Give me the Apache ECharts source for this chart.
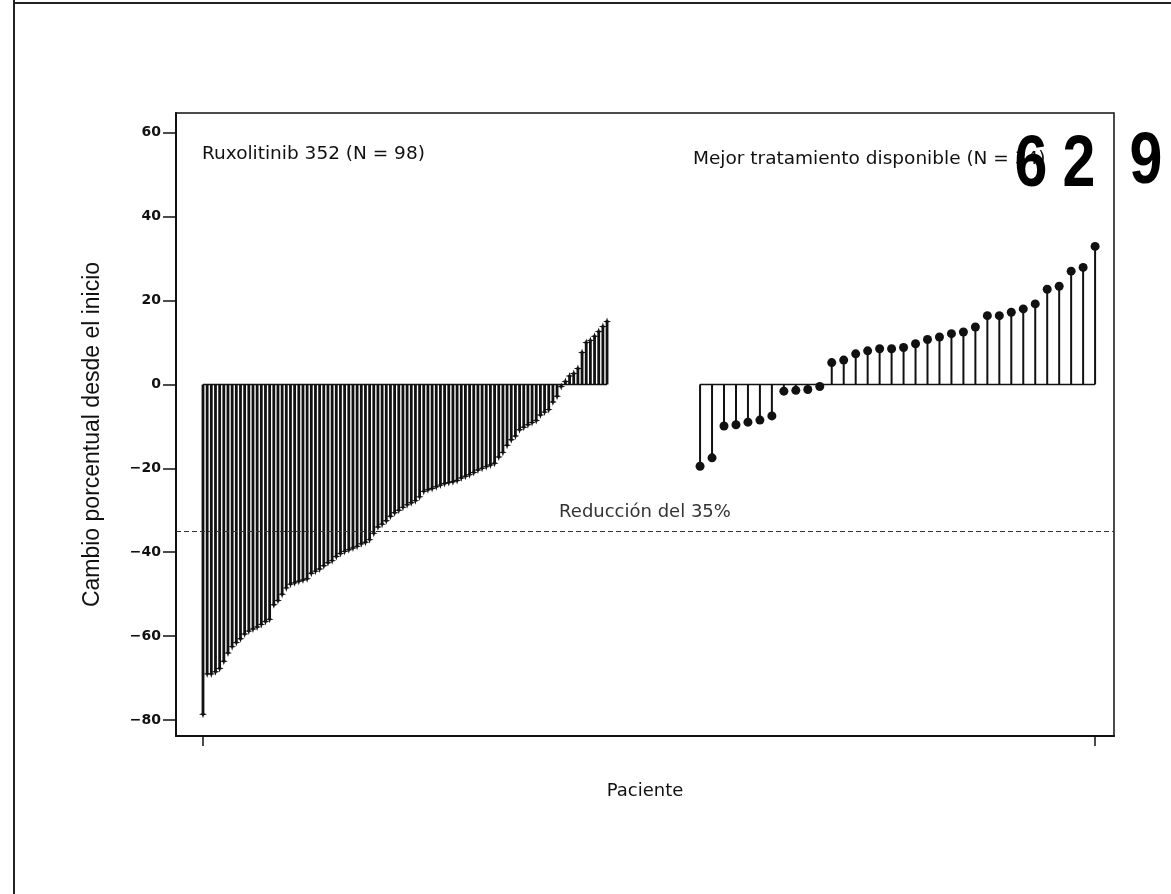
<!DOCTYPE html>
<html>
<head>
<meta charset="utf-8">
<script src="https://cdn.jsdelivr.net/npm/echarts@6/dist/echarts.min.js"></script>
<style>
  html, body { margin: 0; padding: 0; background: #fff; }
  #chart { width: 1171px; height: 894px; }
</style>
</head>
<body>
<div id="chart"></div>
<script>
// Ruxolitinib arm, sorted change from baseline (%)
const ruxValues = [
  -78.6, -69, -69, -68.5, -67.7, -66, -64, -62.5, -61.5, -60.6,
  -59.5, -58.8, -58.3, -57.8, -57.2, -56.5, -56, -52.5, -51.5, -50,
  -48.5, -47.6, -47.3, -46.9, -46.6, -46.3, -45, -44.5, -44, -43.2,
  -42.5, -42, -41, -40.3, -39.8, -39.4, -39, -38.6, -38, -37.6,
  -37, -35.5, -34, -33.3, -32.5, -31.4, -30.6, -30, -29.3, -28.7,
  -28.2, -27.7, -26.8, -25.5, -25.1, -24.8, -24.4, -24, -23.6, -23.4,
  -23.2, -22.9, -22.3, -21.9, -21.5, -21, -20.4, -20, -19.6, -19.2,
  -18.8, -17.3, -16.2, -14.5, -13.2, -12.3, -10.8, -10.2, -9.6, -9.1,
  -8.6, -7.3, -6.6, -6, -4.2, -2.8, -0.5, 0.7, 2, 2.6,
  3.8, 7.6, 10, 10.5, 11.5, 12.6, 13.8, 15
];

// Best available therapy arm
const batValues = [
  -19.5, -17.5, -9.9, -9.6, -9, -8.5, -7.5, -1.6, -1.4, -1.2,
  -0.5, 5.2, 5.8, 7.3, 8, 8.5, 8.5, 8.8, 9.7, 10.7,
  11.3, 12.1, 12.5, 13.7, 16.4, 16.4, 17.2, 18, 19.2, 22.7,
  23.4, 27, 27.9, 32.9
];

const yTicks = [-80, -60, -40, -20, 0, 20, 40, 60];
const reductionLevel = -35;

const ruxLabel = 'Ruxolitinib 352 (N = 98)';
const batLabel = 'Mejor tratamiento disponible (N = 34)';
const stampDigits = ['6', '2', '9'];

const starPath = 'path://M0,-5L1.2,-1.2L5,0L1.2,1.2L0,5L-1.2,1.2L-5,0L-1.2,-1.2Z';
const ink = '#111';
const font = '"DejaVu Sans", Verdana, sans-serif';
const stampFont = 'bold 72px "Liberation Sans", Arial, sans-serif';

const chart = echarts.init(document.getElementById('chart'));

const stamp = (text, x, y) => ({
  type: 'text', x: x, y: y, scaleX: 0.82, z: 100,
  style: { text: text, font: stampFont, fill: '#000', align: 'center', verticalAlign: 'middle' }
});

const option = {
  backgroundColor: '#fff',
  animation: false,
  grid: {
    left: 176, top: 113, right: 57, bottom: 158,
    show: true, borderColor: ink, borderWidth: 1.5
  },
  xAxis: [
    {
      type: 'value', position: 'bottom',
      min: -6.48, max: 218.7,
      name: 'Paciente', nameLocation: 'middle', nameGap: 46,
      nameTextStyle: { fontFamily: font, fontSize: 18, color: ink },
      axisLine: { show: true, onZero: false, lineStyle: { color: ink, width: 2 } },
      axisTick: { show: true, length: 10, customValues: [0], lineStyle: { color: ink, width: 1.5 } },
      axisLabel: { show: false },
      splitLine: { show: false }
    },
    {
      type: 'value', position: 'bottom',
      min: -43.78, max: 34.58,
      axisLine: { show: false, onZero: false },
      axisTick: { show: true, length: 10, customValues: [batValues.length - 1], lineStyle: { color: ink, width: 1.5 } },
      axisLabel: { show: false },
      splitLine: { show: false }
    }
  ],
  yAxis: {
    type: 'value',
    min: -83.8, max: 64.7,
    name: 'Cambio porcentual desde el inicio',
    nameLocation: 'middle', nameGap: 72,
    nameTextStyle: {
      fontFamily: '"Liberation Sans", Arial, sans-serif', fontSize: 23, color: ink,
      padding: [0, 20, 0, 0]
    },
    axisLine: { show: true, onZero: false, lineStyle: { color: ink, width: 2 } },
    axisTick: { show: true, length: 13, customValues: yTicks, lineStyle: { color: ink, width: 1.5 } },
    axisLabel: {
      customValues: yTicks,
      fontFamily: font, fontSize: 14, fontWeight: 'bold', color: ink, margin: 15,
      formatter: v => (v < 0 ? '\u2212' + Math.abs(v) : String(v))
    },
    splitLine: { show: false }
  },
  graphic: [
    { type: 'line', shape: { x1: 14, y1: 0, x2: 14, y2: 894 }, style: { stroke: '#222', lineWidth: 2 } },
    { type: 'line', shape: { x1: 14, y1: 3, x2: 1171, y2: 3 }, style: { stroke: '#222', lineWidth: 2 } },
    { type: 'text', left: 202, top: 145, style: { text: ruxLabel, font: '18.5px ' + font, fill: ink } },
    { type: 'text', left: 693, top: 150, style: { text: batLabel, font: '18.5px ' + font, fill: ink } },
    stamp(stampDigits[0], 1031, 166),
    stamp(stampDigits[1], 1079, 166),
    stamp(stampDigits[2], 1146, 163)
  ],
  series: [
    {
      name: 'rux-stems', type: 'bar', xAxisIndex: 0,
      barWidth: 2.8,
      itemStyle: { color: ink },
      data: ruxValues.map((v, i) => [i, v]),
      markLine: {
        silent: true, symbol: 'none',
        lineStyle: { color: '#333', type: [5, 3], width: 1 },
        label: {
          position: 'insideMiddleTop', distance: 10,
          formatter: 'Reducción del 35%',
          fontFamily: font, fontSize: 18, color: '#333'
        },
        data: [{ yAxis: reductionLevel }]
      }
    },
    {
      name: 'rux-marks', type: 'scatter', xAxisIndex: 0,
      symbol: starPath, symbolSize: 8,
      itemStyle: { color: ink, opacity: 1 },
      data: ruxValues.map((v, i) => [i, v])
    },
    {
      name: 'rux-base', type: 'line', xAxisIndex: 0,
      symbol: 'none', lineStyle: { color: ink, width: 1.5 },
      data: [[0, 0], [ruxValues.length - 1, 0]]
    },
    {
      name: 'bat-stems', type: 'bar', xAxisIndex: 1,
      barWidth: 2,
      itemStyle: { color: ink },
      data: batValues.map((v, i) => [i, v])
    },
    {
      name: 'bat-marks', type: 'scatter', xAxisIndex: 1,
      symbol: 'circle', symbolSize: 9,
      itemStyle: { color: ink, opacity: 1 },
      data: batValues.map((v, i) => [i, v])
    },
    {
      name: 'bat-base', type: 'line', xAxisIndex: 1,
      symbol: 'none', lineStyle: { color: ink, width: 1.5 },
      data: [[0, 0], [batValues.length - 1, 0]]
    }
  ]
};

chart.setOption(option);
</script>
</body>
</html>
